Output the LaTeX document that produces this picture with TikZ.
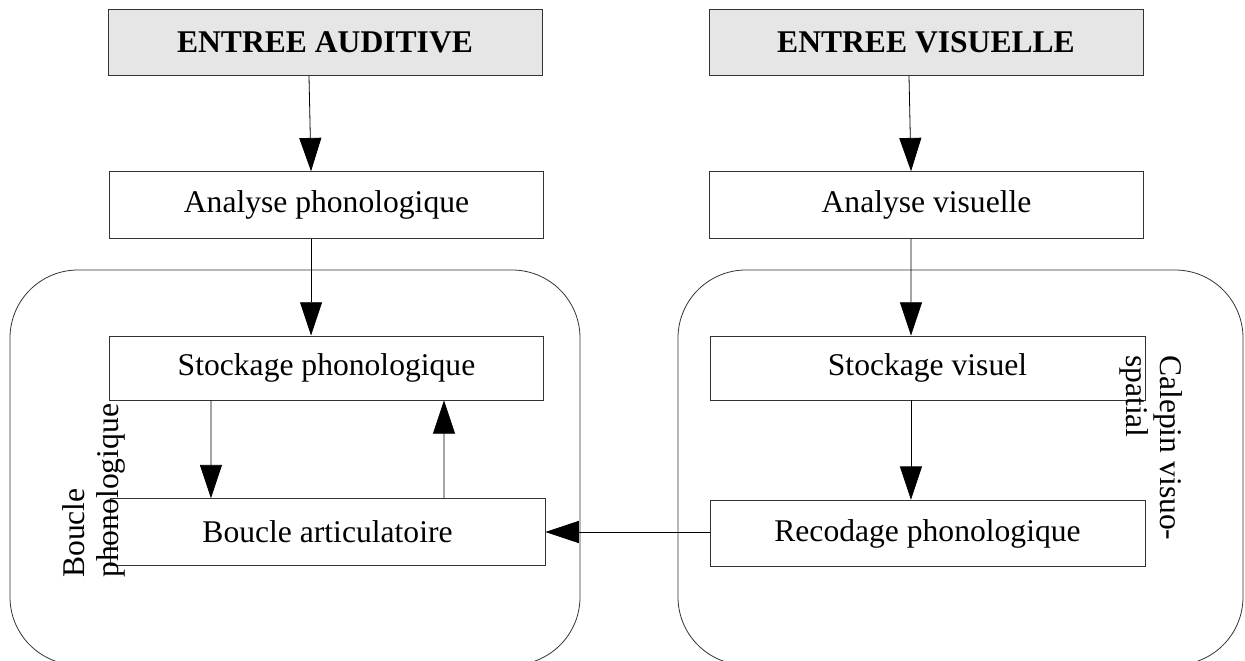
\documentclass[tikz,border=0pt]{standalone}
\usepackage{fontspec}
\setmainfont{Liberation Serif}
\usepackage{tikz}
\usetikzlibrary{arrows.meta, positioning, calc}
\definecolor{inputgray}{HTML}{E6E6E6}
\definecolor{linegray}{HTML}{333333}

\begin{document}
\begin{tikzpicture}[
  x=0.75pt, y=-0.75pt,
  font=\fontsize{23.7}{25.5}\selectfont,
  stage/.style={
    rectangle,
    draw=linegray,
    line width=0.6pt,
    minimum width=325.5pt,
    minimum height=50pt,
    inner sep=0pt,
    align=center
  },
  inputbox/.style={
    stage,
    fill=inputgray,
    font=\fontsize{23.7}{25.5}\selectfont\bfseries
  },
  loopbox/.style={
    draw=linegray,
    line width=0.6pt,
    rounded corners=51pt
  },
  looplabel/.style={
    inner sep=0pt,
    align=left
  },
  flow/.style={
    draw=black,
    line width=0.6pt,
    -{Triangle[length=25pt,width=16.5pt]}
  }
]
  \useasboundingbox (0,0) rectangle (1245,660);
  \clip (0,0) rectangle (1245,660);

  % Subsystems
  \draw[loopbox] (10,270) rectangle (580,665);
  \draw[loopbox] (678,270) rectangle (1243,665);

  % Inputs
  \node[inputbox] (audin) at (325,42.5) {ENTREE AUDITIVE};
  \node[inputbox] (visin) at (926,42.5) {ENTREE VISUELLE};

  % Left column
  \node[stage] (anaphon) at (326.5,205) {Analyse phonologique};
  \node[stage, minimum height=48pt] (stophon) at (326.5,368) {Stockage phonologique};
  \node[stage, minimum width=326.3pt] (boucle) at (327.5,532) {Boucle articulatoire};

  % Right column
  \node[stage] (anavis) at (926.5,205) {Analyse visuelle};
  \node[stage, minimum width=326.3pt, minimum height=48pt] (stovis) at (927.5,368) {Stockage visuel};
  \node[stage, minimum width=326.3pt] (recod) at (927.5,533.5) {Recodage phonologique};

  % Loop labels
  \node[looplabel, rotate=90, anchor=north west] (phonlabel) at (62,578) {Boucle\\phonologique};
  \node[looplabel, rotate=-90, anchor=north west] (vislabel) at (1183,355) {Calepin visuo-\\spatial};

  % Arrows
  \draw[flow] ([xshift=-12pt]audin.south) -- ([xshift=-11.6pt]anaphon.north);
  \draw[flow] ([xshift=-11.6pt]anaphon.south) -- ([xshift=-11.6pt]stophon.north);
  \draw[flow] ([xshift=-86.6pt]stophon.south) -- ([xshift=-87.4pt]boucle.north);
  \draw[flow] ([xshift=87.4pt]boucle.north) -- ([xshift=88.1pt]stophon.south);

  \draw[flow] ([xshift=-12.75pt]visin.south) -- ([xshift=-11.6pt]anavis.north);
  \draw[flow] ([xshift=-11.6pt]anavis.south) -- ([xshift=-12.4pt]stovis.north);
  \draw[flow] ([xshift=-12.4pt]stovis.south) -- ([xshift=-12.4pt]recod.north);
  \draw[flow] (recod.west |- boucle.east) -- (boucle.east);
\end{tikzpicture}
\end{document}
